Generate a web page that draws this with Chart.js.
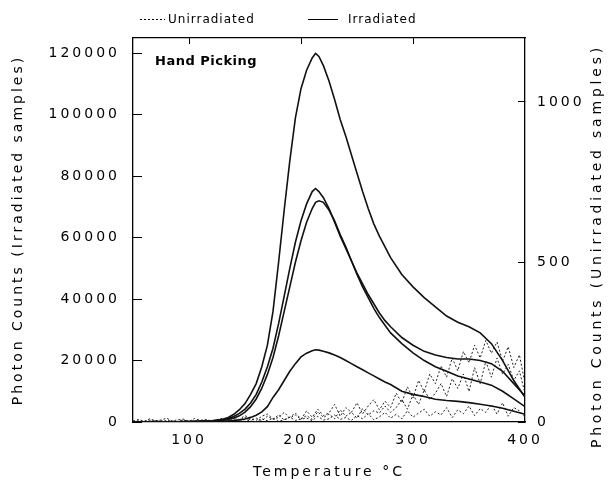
<!DOCTYPE html>
<html><head><meta charset="utf-8">
<script src="https://cdn.jsdelivr.net/npm/chart.js@4.4.1/dist/chart.umd.min.js"></script>
<style>html,body{margin:0;padding:0;background:#fff}canvas{display:block}</style>
</head><body>
<canvas id="c" width="611" height="481"></canvas>
<script>
// ---- data ----
const tempsIrr = [50,60,70,80,90,100,110,120,130,
  135,140,145,150,155,160,165,170,175,180,185,190,195,200,205,210,
  213,216,
  220,225,230,235,240,245,250,255,260,265,270,275,280,
  290,300,310,320,330,340,350,360,370,380,390,400];
const irradiatedA = [100,0,200,0,100,200,300,400,900,
  1500,2500,4000,6000,9000,12500,18000,25000,36000,52000,69000,85000,99000,108500,114500,118500,
  120000,119000,
  116000,111000,105000,98500,93000,87000,81000,75000,69500,64500,60500,57000,53500,
  48000,44000,40500,37500,34500,32500,31000,29000,25500,20000,13500,8000];
const irradiatedB = [0,100,0,100,0,100,200,300,700,
  1100,1800,2800,4200,6200,9000,13000,18000,24000,32000,41000,50000,58500,65500,71000,75000,
  76000,75000,
  73000,69500,65000,60500,56500,52500,48500,45000,41500,38500,35500,33000,31000,
  27500,25000,23000,21800,21000,20500,20500,20000,19000,16500,12500,8500];
const irradiatedC = [0,0,100,0,100,0,100,200,500,
  800,1300,2000,3200,5000,7500,11000,15500,21000,28000,36000,44000,52000,59000,65000,69500,
  71500,72000,
  71500,69000,65500,61000,57000,52500,48000,44000,40500,37000,34000,31500,29000,
  25500,22500,20000,18000,16500,15000,14000,13000,12000,10000,7500,5000];
const irradiatedD = [0,0,0,0,0,0,0,100,200,
  300,500,700,1000,1500,2200,3300,5000,8000,10500,13500,16500,19000,21200,22400,23200,
  23500,23400,
  23000,22500,21800,21000,20000,19000,18000,17000,16000,15000,14000,13000,12200,
  10000,9000,8300,7400,7000,6700,6300,5800,5200,4500,3500,2500];

const tempsUnirr = [50,55,60,65,70,75,80,85,90,95,100,105,110,115,120,
  125,130,135,140,145,150,155,160,165,170,175,180,185,190,195,200,
  205,210,215,220,225,230,235,240,245,250,255,260,265,270,275,280,
  285,290,295,300,305,310,315,320,325,330,335,340,345,350,
  355,360,365,370,375,380,385,390,395,400];
const unirradiatedA = [3,8,2,10,4,6,12,3,7,9,2,11,5,8,4,
  6,12,4,15,8,20,10,5,18,25,9,14,30,12,22,8,
  35,15,40,20,28,55,18,45,30,60,25,50,70,38,65,45,
  90,60,110,75,130,95,150,120,175,140,200,160,220,185,
  240,200,255,215,250,190,235,170,210,120];
const unirradiatedB = [0,4,1,6,2,0,5,3,1,7,0,4,2,6,1,
  3,8,2,10,5,14,6,12,4,18,8,22,6,15,28,10,
  20,8,32,14,25,10,38,18,30,12,42,22,35,28,50,30,
  45,70,40,85,55,100,70,90,120,80,135,105,150,95,
  170,120,190,140,200,150,180,130,160,90];
const unirradiatedC = [2,0,3,1,0,4,1,0,2,5,1,0,3,2,0,
  1,4,0,6,2,8,3,1,10,4,12,2,7,15,5,9,
  12,4,18,6,10,22,8,14,5,20,10,26,7,16,30,12,
  24,10,35,15,28,40,18,32,22,45,14,38,26,50,
  20,42,30,55,25,60,18,45,35,15];

const xTicks = [100,200,300,400];
const xTopTicks = [100,200,300];
const leftTicks = [0,20000,40000,60000,80000,100000,120000];
const rightTicks = [0,500,1000];
const legendLabels = ['Unirradiated','Irradiated'];
const panelLabel = 'Hand Picking';
const xTitle = 'Temperature \u00B0C';
const yLeftTitle = 'Photon Counts (Irradiated samples)';
const yRightTitle = 'Photon Counts (Unirradiated samples)';

// ---- chart ----
const F = '"DejaVu Sans", sans-serif';
const pts = (xs, ys) => xs.map((x, i) => ({x: x, y: ys[i]}));
const solid = (arr) => ({data: pts(tempsIrr, arr), yAxisID: 'y', xAxisID: 'x',
  borderColor: '#111', borderWidth: 1.6, pointRadius: 0, fill: false});
const dotted = (arr) => ({data: pts(tempsUnirr, arr), yAxisID: 'y2', xAxisID: 'x',
  borderColor: '#222', borderWidth: 1, borderDash: [2, 2], pointRadius: 0, fill: false});

const decor = {
  id: 'decor',
  beforeUpdate(chart) { chart.ctx.letterSpacing = '3px'; },
  beforeDraw(chart) { chart.ctx.letterSpacing = '3px'; },
  afterDraw(chart) {
    const ctx = chart.ctx, a = chart.chartArea;
    ctx.save();
    ctx.letterSpacing = '1px';
    ctx.font = '12px ' + F;
    ctx.fillStyle = '#000'; ctx.strokeStyle = '#000';
    ctx.textBaseline = 'middle'; ctx.textAlign = 'left';
    ctx.lineWidth = 1;
    ctx.setLineDash([2, 2]);
    ctx.beginPath(); ctx.moveTo(140, 19.5); ctx.lineTo(165, 19.5); ctx.stroke();
    ctx.fillText(legendLabels[0], 168, 20);
    ctx.setLineDash([]);
    ctx.beginPath(); ctx.moveTo(308, 19.5); ctx.lineTo(338, 19.5); ctx.stroke();
    ctx.fillText(legendLabels[1], 348, 20);
    ctx.font = 'bold 13px ' + F; ctx.letterSpacing = '0.5px';
    ctx.fillText(panelLabel, a.left + 22, a.top + 24);
    // right axis title, reading bottom-to-top like the reference
    ctx.font = '14px ' + F; ctx.letterSpacing = '3.8px';
    ctx.textAlign = 'center';
    ctx.translate(597, 246);
    ctx.rotate(-Math.PI / 2);
    ctx.fillText(yRightTitle, 0, 0);
    ctx.restore();
  }
};

const tickFont = {family: F, size: 14};
new Chart(document.getElementById('c'), {
  type: 'line',
  data: {datasets: [
    solid(irradiatedA), solid(irradiatedB), solid(irradiatedC), solid(irradiatedD),
    dotted(unirradiatedA), dotted(unirradiatedB), dotted(unirradiatedC)
  ]},
  options: {
    responsive: false, animation: false, devicePixelRatio: 1,
    layout: {padding: {top: 38, left: 0, right: 0, bottom: 0}},
    plugins: {legend: {display: false}, tooltip: {enabled: false}},
    elements: {point: {radius: 0}, line: {tension: 0}},
    scales: {
      x: {type: 'linear', position: 'bottom', min: 50, max: 400,
        afterBuildTicks: s => { s.ticks = xTicks.map(v => ({value: v})); },
        afterFit: s => { s.height = 59; },
        grid: {display: true, drawOnChartArea: false, drawTicks: false},
        border: {display: true, color: '#000', width: 1.3},
        ticks: {color: '#000', font: tickFont, padding: 10, maxRotation: 0, autoSkip: false, callback: v => String(v)},
        title: {display: true, text: xTitle, color: '#000', font: tickFont, padding: {top: 0, bottom: 0}}},
      xTop: {type: 'linear', position: 'top', min: 50, max: 400,
        afterBuildTicks: s => { s.ticks = xTopTicks.map(v => ({value: v})); },
        afterFit: s => { s.height = 0; },
        grid: {display: true, drawOnChartArea: false, drawTicks: true, tickLength: -6, color: '#000', lineWidth: 1},
        border: {display: true, color: '#000', width: 1.3},
        ticks: {display: false}},
      y: {type: 'linear', position: 'left', min: 0, max: 125000,
        afterBuildTicks: s => { s.ticks = leftTicks.map(v => ({value: v})); },
        afterFit: s => { s.width = 133; },
        grid: {display: true, drawOnChartArea: false, drawTicks: true, tickLength: -9, color: '#000', lineWidth: 1},
        border: {display: true, color: '#000', width: 1.3},
        ticks: {color: '#000', font: tickFont, padding: 22, autoSkip: false, callback: v => String(v)},
        title: {display: true, text: yLeftTitle, color: '#000', font: tickFont, padding: {top: 9.6, bottom: 0}}},
      y2: {type: 'linear', position: 'right', min: 0, max: 1200,
        afterBuildTicks: s => { s.ticks = rightTicks.map(v => ({value: v})); },
        afterFit: s => { s.width = 86; },
        grid: {display: true, drawOnChartArea: false, drawTicks: true, tickLength: -7, color: '#000', lineWidth: 1},
        border: {display: true, color: '#000', width: 1.3},
        ticks: {color: '#000', font: tickFont, padding: 19, autoSkip: false, callback: v => String(v)},
        title: {display: false}}
    }
  },
  plugins: [decor]
});
</script>
</body></html>
